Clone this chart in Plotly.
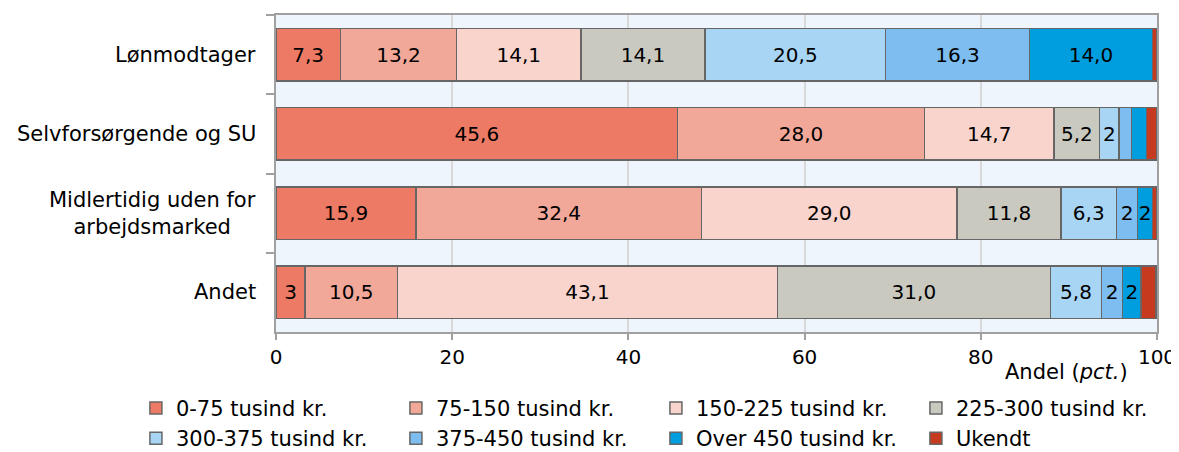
import plotly.graph_objects as go

categories = ["Lønmodtager", "Selvforsørgende og SU", "Midlertidig uden for<br>arbejdsmarked", "Andet"]

series_names = ["0-75 tusind kr.", "75-150 tusind kr.", "150-225 tusind kr.", "225-300 tusind kr.",
                "300-375 tusind kr.", "375-450 tusind kr.", "Over 450 tusind kr.", "Ukendt"]

v_0_75 = [7.3, 45.6, 15.9, 3.3]
v_75_150 = [13.2, 28.0, 32.4, 10.5]
v_150_225 = [14.1, 14.7, 29.0, 43.1]
v_225_300 = [14.1, 5.2, 11.8, 31.0]
v_300_375 = [20.5, 2.2, 6.3, 5.8]
v_375_450 = [16.3, 1.4, 2.4, 2.4]
v_over_450 = [14.0, 1.7, 1.7, 2.1]
v_ukendt = [0.5, 1.2, 0.5, 1.7]

t_0_75 = ["7,3", "45,6", "15,9", "3"]
t_75_150 = ["13,2", "28,0", "32,4", "10,5"]
t_150_225 = ["14,1", "14,7", "29,0", "43,1"]
t_225_300 = ["14,1", "5,2", "11,8", "31,0"]
t_300_375 = ["20,5", "2", "6,3", "5,8"]
t_375_450 = ["16,3", "", "2", "2"]
t_over_450 = ["14,0", "", "2", "2"]
t_ukendt = ["", "", "", ""]

colors = ["#EC7A65", "#F2A898", "#F9D4CC", "#C9C9C0", "#A9D5F5", "#7DBDF0", "#009DDF", "#C63A1F"]

values = [v_0_75, v_75_150, v_150_225, v_225_300, v_300_375, v_375_450, v_over_450, v_ukendt]
texts = [t_0_75, t_75_150, t_150_225, t_225_300, t_300_375, t_375_450, t_over_450, t_ukendt]

FONT = "DejaVu Sans"
FS_BAR = 20
FS_CAT = 21
FS_TICK = 20
FS_LEG = 21

fig = go.Figure()
for name, vals, txt, col in zip(series_names, values, texts, colors):
    fig.add_trace(go.Bar(
        y=categories, x=vals, name=name, orientation="h",
        text=txt, textposition="inside", insidetextanchor="middle", textangle=0,
        textfont=dict(family=FONT, size=FS_BAR, color="black"),
        marker=dict(color=col, line=dict(color="#666666", width=1.5)),
        hoverinfo="skip",
    ))

for c in categories:
    fig.add_annotation(xref="paper", yref="y", x=-0.02, y=c, text=c, showarrow=False,
                       xanchor="right", yanchor="middle", align="center",
                       font=dict(family=FONT, size=FS_CAT, color="black"))

fig.add_annotation(xref="paper", yref="paper", x=0.969, y=-0.126, text="Andel (<i>pct.</i>)",
                   showarrow=False, xanchor="right", yanchor="middle",
                   font=dict(family=FONT, size=FS_CAT, color="black"))

fig.update_layout(
    barmode="stack", bargap=0.34,
    width=1171, height=444,
    margin=dict(l=268, r=22, t=7, b=120, autoexpand=False),
    paper_bgcolor="white", plot_bgcolor="#EFF5FD",
    font=dict(family=FONT, size=FS_TICK, color="black"),
    uniformtext=dict(minsize=FS_BAR, mode="show"),
    showlegend=True,
    legend=dict(orientation="h", x=-0.159, y=-0.176, xanchor="left", yanchor="top",
                entrywidth=215, entrywidthmode="pixels", traceorder="normal",
                font=dict(family=FONT, size=FS_LEG, color="black"), itemwidth=30),
    xaxis=dict(range=[0, 100], tickvals=[0, 20, 40, 60, 80, 100], showgrid=True,
               gridcolor="#D9D9D9", gridwidth=1.5, zeroline=False,
               showline=True, linecolor="#A0A0A0", linewidth=2, mirror=True,
               ticks="outside", ticklen=6, tickcolor="#A0A0A0", tickwidth=2,
               tickfont=dict(family=FONT, size=FS_TICK)),
    yaxis=dict(autorange="reversed", showticklabels=False, showgrid=False,
               showline=True, linecolor="#A0A0A0", linewidth=2, mirror=True,
               ticks="outside", tickson="boundaries", ticklen=8, tickcolor="#A0A0A0", tickwidth=2),
)

fig.write_html("out.html")
